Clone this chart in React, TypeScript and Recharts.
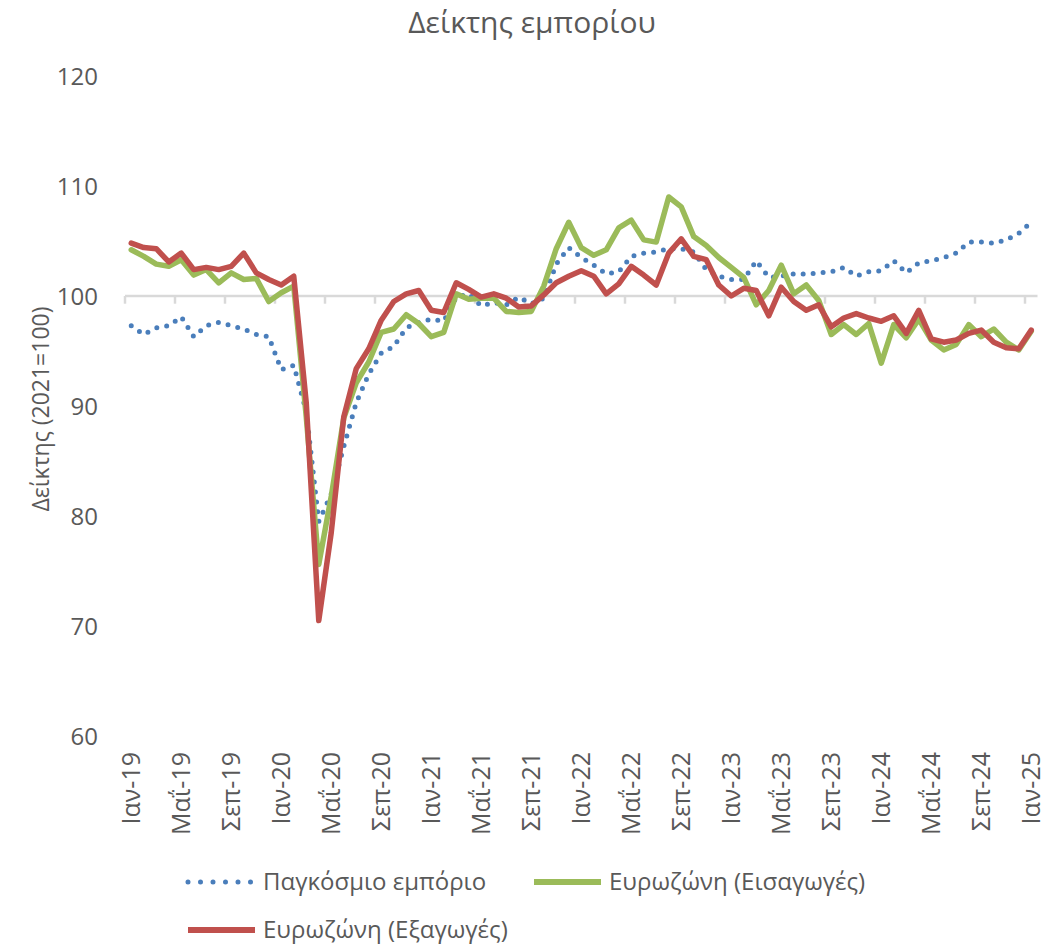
import React from 'react';
import { LineChart, Line, XAxis, YAxis, ReferenceLine, Legend } from 'recharts';

// Monthly categories, Jan 2019 .. Jan 2025
const MONTH_NAMES = ['Ιαν', 'Φεβ', 'Μαρ', 'Απρ', 'Μαΐ', 'Ιουν', 'Ιουλ', 'Αυγ', 'Σεπ', 'Οκτ', 'Νοε', 'Δεκ'];
const YEARS = ['19', '20', '21', '22', '23', '24', '25'];
const CATEGORIES: string[] = [];
YEARS.forEach((y, yi) => {
  MONTH_NAMES.forEach((m, mi) => {
    if (yi < YEARS.length - 1 || mi === 0) CATEGORIES.push(`${m}-${y}`);
  });
});

// Παγκόσμιο εμπόριο
const WORLD_TRADE = [
  97.3, 96.5, 97.1, 97.3, 98.1, 96.3, 97.3, 97.6, 97.3, 97.0, 96.5, 96.3,
  93.3, 93.7, 89.5, 79.5, 82.0, 86.3, 90.3, 92.9, 94.8, 95.4, 97.1, 97.6,
  97.9, 97.7, 99.9, 100.2, 99.1, 99.4, 99.2, 99.9, 99.3, 99.8, 102.9, 104.4,
  103.5, 102.8, 102.0, 102.2, 103.6, 103.9, 104.0, 104.3, 104.3, 104.0, 102.4, 101.8,
  101.5, 101.5, 103.2, 101.7, 101.8, 102.0, 102.0, 102.1, 102.2, 102.6, 101.8, 102.2,
  102.3, 103.2, 102.1, 103.0, 103.2, 103.5, 103.9, 104.9, 104.9, 104.8, 105.1, 105.7,
  106.7,
];

// Ευρωζώνη (Εισαγωγές)
const EZ_IMPORTS = [
  104.2, 103.6, 102.9, 102.7, 103.3, 101.9, 102.4, 101.2, 102.1, 101.5, 101.6, 99.5,
  100.3, 100.9, 89.0, 75.6, 81.8, 88.9, 92.1, 94.0, 96.7, 97.0, 98.3, 97.5,
  96.3, 96.7, 100.2, 99.7, 99.8, 99.8, 98.6, 98.5, 98.6, 100.9, 104.3, 106.7,
  104.4, 103.7, 104.2, 106.2, 106.9, 105.1, 104.9, 109.0, 108.1, 105.4, 104.6, 103.5,
  102.6, 101.7, 99.2, 100.5, 102.8, 100.2, 101.0, 99.6, 96.5, 97.4, 96.5, 97.5,
  93.9, 97.4, 96.2, 97.9, 96.0, 95.1, 95.6, 97.4, 96.3, 97.0, 95.8, 95.1,
  96.8,
];

// Ευρωζώνη (Εξαγωγές)
const EZ_EXPORTS = [
  104.8, 104.4, 104.3, 103.1, 103.9, 102.4, 102.6, 102.4, 102.7, 103.9, 102.1, 101.5,
  101.0, 101.8, 90.3, 70.5, 78.5, 89.0, 93.4, 95.2, 97.8, 99.5, 100.2, 100.5,
  98.7, 98.5, 101.2, 100.6, 99.9, 100.2, 99.8, 99.0, 99.1, 100.1, 101.2, 101.8,
  102.3, 101.8, 100.2, 101.1, 102.7, 101.9, 101.0, 103.9, 105.2, 103.6, 103.3, 101.0,
  100.0, 100.7, 100.5, 98.2, 100.8, 99.5, 98.7, 99.2, 97.2, 98.0, 98.4, 98.0,
  97.7, 98.2, 96.6, 98.7, 96.1, 95.8, 96.0, 96.6, 96.9, 95.8, 95.3, 95.2,
  96.9,
];

const Y_TICKS = [60, 70, 80, 90, 100, 110, 120];
const LABEL_STEP = 4;

const SERIES = [
  { key: 'world', name: 'Παγκόσμιο εμπόριο', color: '#4A7EBB', dotted: true },
  { key: 'imports', name: 'Ευρωζώνη (Εισαγωγές)', color: '#9BBB59', dotted: false },
  { key: 'exports', name: 'Ευρωζώνη (Εξαγωγές)', color: '#C0504D', dotted: false },
];

const data = CATEGORIES.map((label, i) => ({
  i,
  label,
  world: WORLD_TRADE[i],
  imports: EZ_IMPORTS[i],
  exports: EZ_EXPORTS[i],
}));

const xTicks = data.filter(d => d.i % LABEL_STEP === 0).map(d => d.i);
// tick marks sit on category boundaries
const boundaryTicks = xTicks.map(t => t - 0.5);

const FONT = '"Open Sans", sans-serif';
const TEXT = '#595959';

const XTick = (props: any) => {
  const { x, y, payload } = props;
  return (
    <text
      x={x}
      y={y + 8}
      transform={`rotate(-90 ${x} ${y + 8})`}
      textAnchor="end"
      dy="0.35em"
      fontSize={25}
      fontFamily={FONT}
      fill={TEXT}
    >
      {CATEGORIES[payload.value]}
    </text>
  );
};

const renderLegend = () => {
  const rows = [
    { s: SERIES[0], x: 185, y: 22 },
    { s: SERIES[1], x: 531, y: 22 },
    { s: SERIES[2], x: 185, y: 70 },
  ];
  return (
    <svg width={1064} height={95}>
      {rows.map(({ s, x, y }) => (
        <g key={s.key}>
          <line
            x1={x + 3}
            x2={x + 70}
            y1={y}
            y2={y}
            stroke={s.color}
            strokeWidth={s.dotted ? 5 : 6}
            strokeDasharray={s.dotted ? '0 12.5' : undefined}
            strokeLinecap={s.dotted ? 'round' : 'butt'}
          />
          <text x={x + 78} y={y} dy="0.35em" fontSize={24} fontFamily={FONT} fill={TEXT}>
            {s.name}
          </text>
        </g>
      ))}
    </svg>
  );
};

export default function App() {
  return (
    <div style={{ position: 'absolute', left: 0, top: 0, width: 1064, height: 945, background: '#fff' }}>
      <div
        style={{
          position: 'absolute',
          left: 0,
          top: 1,
          width: 1064,
          textAlign: 'center',
          fontFamily: FONT,
          fontSize: 30,
          lineHeight: '42px',
          color: TEXT,
        }}
      >
        Δείκτης εμπορίου
      </div>
      <div
        style={{
          position: 'absolute',
          left: 40 - 150,
          top: 409 - 15,
          width: 300,
          height: 30,
          lineHeight: '30px',
          textAlign: 'center',
          transform: 'rotate(-90deg)',
          fontFamily: FONT,
          fontSize: 23,
          color: TEXT,
        }}
      >
        Δείκτης (2021=100)
      </div>
      <LineChart
        width={1064}
        height={945}
        data={data}
        margin={{ top: 76, right: 26.5, bottom: 109, left: 0 }}
      >
        <XAxis
          dataKey="i"
          type="number"
          domain={[-0.5, CATEGORIES.length - 0.5]}
          ticks={xTicks}
          interval={0}
          tick={<XTick />}
          tickLine={false}
          axisLine={false}
          height={100}
        />
        <YAxis
          type="number"
          domain={[60, 120]}
          ticks={Y_TICKS}
          width={125}
          tickLine={false}
          axisLine={false}
          tickSize={0}
          tickMargin={27}
          tick={{ fontSize: 24, fontFamily: FONT, fill: TEXT }}
        />
        <ReferenceLine y={100} stroke="#D9D9D9" strokeWidth={2.5} />
        {boundaryTicks.map(t => (
          <ReferenceLine
            key={t}
            segment={[{ x: t, y: 100 }, { x: t, y: 99.3 }]}
            stroke="#D9D9D9"
            strokeWidth={2.5}
          />
        ))}
        {SERIES.map(s => (
          <Line
            key={s.key}
            dataKey={s.key}
            name={s.name}
            type="linear"
            stroke={s.color}
            strokeWidth={s.dotted ? 5 : 5.5}
            strokeDasharray={s.dotted ? '0 10' : undefined}
            strokeLinecap="round"
            strokeLinejoin="round"
            dot={false}
            activeDot={false}
            isAnimationActive={false}
          />
        ))}
        <Legend
          layout="horizontal"
          verticalAlign="middle"
          align="center"
          wrapperStyle={{ top: 860, left: 0, width: 1064 }}
          content={renderLegend}
        />
      </LineChart>
    </div>
  );
}
